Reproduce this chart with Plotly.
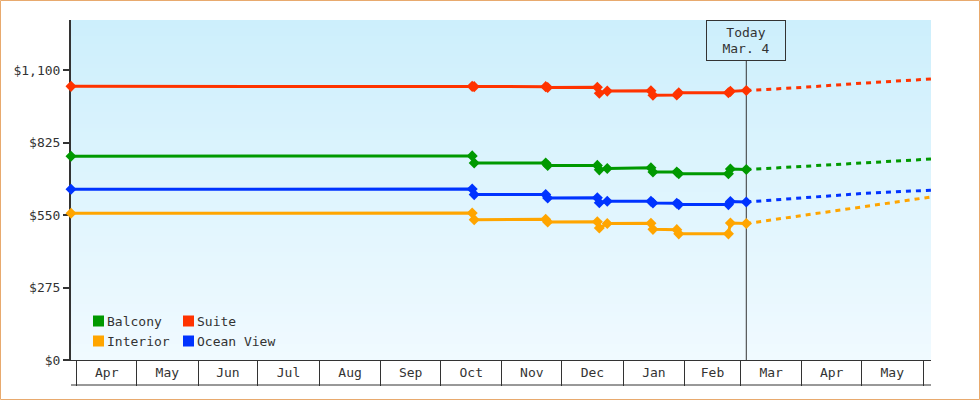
import plotly.graph_objects as go
import pandas as pd

# ---------------- data ----------------
hist_dates = ['2022-03-29', '2022-10-17', '2022-10-18', '2022-11-23', '2022-11-24',
              '2022-12-19', '2022-12-20', '2022-12-24', '2023-01-15', '2023-01-16',
              '2023-01-28', '2023-01-29', '2023-02-23', '2023-02-24', '2023-03-04']
balcony = [774, 775, 748, 748, 739, 739, 722, 727, 730, 714, 714, 707, 707, 725, 723]
suite = [1039, 1039, 1038, 1038, 1035, 1036, 1013, 1021, 1022, 1005, 1006, 1015, 1015, 1020, 1023]
interior = [557, 558, 533, 534, 524, 525, 501, 518, 519, 496, 495, 479, 479, 520, 518]
ocean_view = [648, 649, 628, 628, 615, 616, 597, 603, 603, 596, 595, 590, 590, 602, 600]

forecast_dates = ['2023-03-04', '2023-04-01', '2023-05-01', '2023-06-05']
balcony_fc = [723, 735, 748, 763]
suite_fc = [1023, 1035, 1051, 1067]
interior_fc = [518, 548, 582, 619]
ocean_view_fc = [600, 615, 632, 645]

month_starts = ['2022-04-01', '2022-05-01', '2022-06-01', '2022-07-01', '2022-08-01',
                '2022-09-01', '2022-10-01', '2022-11-01', '2022-12-01', '2023-01-01',
                '2023-02-01', '2023-03-01', '2023-04-01', '2023-05-01', '2023-06-01']
month_labels = ['Apr', 'May', 'Jun', 'Jul', 'Aug', 'Sep', 'Oct', 'Nov', 'Dec',
                'Jan', 'Feb', 'Mar', 'Apr', 'May']
y_ticks = [0, 275, 550, 825, 1100]
y_tick_labels = ['$0', '$275', '$550', '$825', '$1,100']
today = '2023-03-04'
today_label = 'Today<br>Mar. 4'

# ---------------- styling ----------------
FONT = 'DejaVu Sans Mono'
INK = '#333333'
W, H = 980, 400
ML, MR, MT, MB = 71, 49, 20, 40
PW, PH = W - ML - MR, H - MT - MB

series = [
    ('Balcony', balcony, balcony_fc, '#009900'),
    ('Suite', suite, suite_fc, '#ff3300'),
    ('Interior', interior, interior_fc, '#ffa500'),
    ('Ocean View', ocean_view, ocean_view_fc, '#0033ff'),
]

fig = go.Figure()
for name, vals, fc, col in series:
    fig.add_trace(go.Scatter(
        x=forecast_dates, y=fc, mode='lines', name=name + ' forecast',
        line=dict(color=col, width=3, dash='5px,5px'), showlegend=False,
        cliponaxis=False, hoverinfo='skip'))
for name, vals, fc, col in series:
    fig.add_trace(go.Scatter(
        x=hist_dates, y=vals, mode='lines+markers', name=name,
        line=dict(color=col, width=3),
        marker=dict(symbol='diamond', size=8.5, color=col),
        showlegend=False, cliponaxis=False))

shapes = []
# gradient plot background
top_c = (205, 239, 252)
bot_c = (240, 250, 255)
n = 85
for i in range(n):
    t = i / (n - 1)
    c = tuple(round(top_c[k] + (bot_c[k] - top_c[k]) * t) for k in range(3))
    shapes.append(dict(type='rect', xref='x domain', yref='y domain',
                       x0=0, x1=1, y0=1 - (i + 1) / n, y1=1 - i / n,
                       fillcolor='rgb(%d,%d,%d)' % c, line=dict(width=0), layer='below'))

box_h = 41
# today line
shapes.append(dict(type='line', xref='x', yref='y domain', x0=today, x1=today,
                   y0=0, y1=1 - box_h / PH, line=dict(color=INK, width=1), layer='below'))
# bottom line of the month strip
strip = 25
shapes.append(dict(type='line', xref='x domain', yref='y domain', x0=0, x1=1,
                   y0=-strip / PH, y1=-strip / PH, line=dict(color=INK, width=1)))
# outer frame
shapes.append(dict(type='rect', xref='paper', yref='paper',
                   x0=(0.5 - ML) / PW, x1=(W - 0.5 - ML) / PW,
                   y0=-(MB - 0.5) / PH, y1=(PH + MT - 0.5) / PH,
                   line=dict(color='#e8aa6e', width=1)))

annotations = [dict(x=today, xref='x', y=1, yref='y domain', yanchor='top',
                    text=today_label, showarrow=False, font=dict(family=FONT, size=13, color=INK),
                    bordercolor=INK, borderwidth=1, borderpad=1, width=76, height=37,
                    bgcolor='rgba(0,0,0,0)')]

# manual legend: two columns, two rows
leg_x0, leg_dx = 93, 90
leg_y0, leg_dy = 321, 20
sq = 11
order = [(0, 0, 0), (1, 1, 0), (2, 0, 1), (3, 1, 1)]
for idx, col_i, row_i in order:
    name, _, _, col = series[idx]
    px = leg_x0 + col_i * leg_dx
    py = leg_y0 + row_i * leg_dy
    shapes.append(dict(type='rect', xref='paper', yref='paper',
                       x0=(px - ML) / PW, x1=(px + sq - ML) / PW,
                       y0=(MT + PH - py - sq / 2) / PH, y1=(MT + PH - py + sq / 2) / PH,
                       fillcolor=col, line=dict(width=0)))
    annotations.append(dict(x=(px + sq + 1 - ML) / PW, xref='paper', xanchor='left',
                            y=(MT + PH - py) / PH, yref='paper', yanchor='middle',
                            text=name, showarrow=False,
                            font=dict(family=FONT, size=13, color=INK)))

# month label positions: middle of each month
ms = pd.to_datetime(month_starts)
mids = [ms[i] + (ms[i + 1] - ms[i]) / 2 for i in range(len(ms) - 1)]

fig.update_layout(
    width=W, height=H,
    margin=dict(l=ML, r=MR, t=MT, b=MB, pad=0),
    paper_bgcolor='white', plot_bgcolor='white',
    font=dict(family=FONT, size=13, color=INK),
    shapes=shapes, annotations=annotations,
    showlegend=False,
    xaxis=dict(type='date', range=['2022-03-29', '2023-06-05'],
               showline=True, linecolor=INK, linewidth=1, showgrid=False, zeroline=False,
               tickmode='array', tickvals=mids, ticktext=month_labels,
               ticks='', tickfont=dict(family=FONT, size=13, color=INK),
               minor=dict(ticks='outside', ticklen=strip, tickwidth=1, tickcolor=INK,
                          tickmode='array', tickvals=month_starts, showgrid=False),
               fixedrange=True),
    yaxis=dict(range=[0, 1291], tickmode='array', tickvals=y_ticks, ticktext=y_tick_labels,
               ticks='outside', ticklen=6, tickwidth=2,
               tickcolor=INK, showline=True, linewidth=2, linecolor=INK,
               showgrid=False, zeroline=False, layer='below traces',
               tickfont=dict(family=FONT, size=13, color=INK), fixedrange=True),
)

fig.write_html('out.html', config={'displayModeBar': False},
               post_script="document.body.style.margin='0';")
